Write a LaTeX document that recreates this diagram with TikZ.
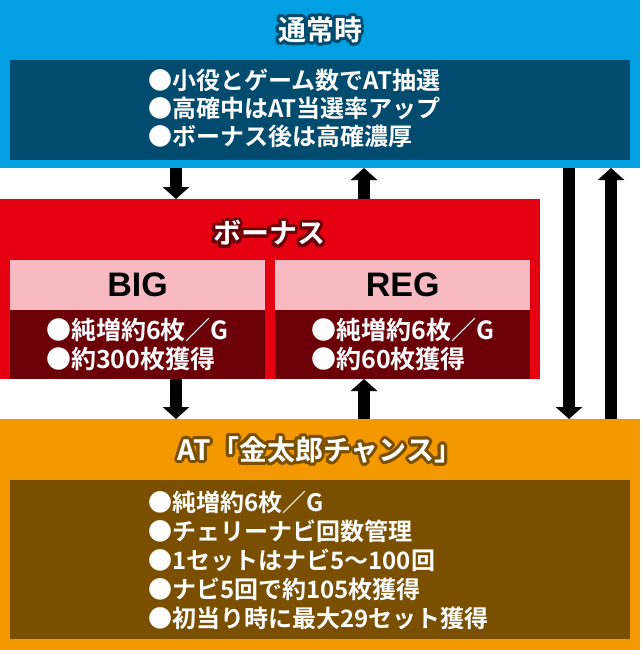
\documentclass[tikz,border=0pt]{standalone}
\usepackage{fontspec}
\setmainfont{Noto Sans CJK JP}[BoldFont={Noto Sans CJK JP Bold}]
\newfontfamily\latinhead{Liberation Sans}
\usetikzlibrary{arrows.meta, positioning}

\definecolor{skyblue}{HTML}{00A0E3}
\definecolor{navy}{HTML}{004B6E}
\definecolor{bonusred}{HTML}{E50012}
\definecolor{softpink}{HTML}{F8BAC2}
\definecolor{darkred}{HTML}{6C0008}
\definecolor{atorange}{HTML}{F39800}
\definecolor{brown}{HTML}{7B4F00}

\tikzset{
  panel/.style = {inner sep=0pt, outer sep=0pt, anchor=north west},
  titletext/.style = {font=\bfseries\fontsize{28}{30}\selectfont, text=white, inner sep=0pt},
  bodytext/.style = {font=\bfseries\fontsize{24}{28}\selectfont, text=white, align=left, inner sep=0pt, anchor=west},
  headtext/.style = {font=\latinhead\bfseries\fontsize{34}{36}\selectfont, text=black, inner sep=0pt},
  arr/.style = {-{Triangle[width=26pt,length=12pt]}, line width=12pt},
}

% white title with a coloured rim
\newcommand\halotitle[4]{%
  \foreach \a in {0,22.5,...,337.5}
    \node[titletext, text=#3] at ([shift={(\a:3pt)}]#2) {#4};
  \node[titletext] (#1) at (#2) {#4};
}

\begin{document}
\begin{tikzpicture}[x=1pt, y=-1pt]
    \useasboundingbox (0,0) rectangle (640,650);

    % normal play
    \node (normal) [panel, fill=skyblue, minimum width=640pt, minimum height=168pt] at (0,0) {};
    \node (normalbox) [panel, fill=navy, minimum width=620pt, minimum height=100pt] at (10,60) {};
    \coordinate (normalpos) at (320,30);
    \halotitle{normaltitle}{normalpos}{navy}{通常時}
    \node (normaltext) [bodytext] at (148,108)
      {●小役とゲーム数でAT抽選\\●高確中はAT当選率アップ\\●ボーナス後は高確濃厚};

    % bonus
    \node (bonus) [panel, fill=bonusred, minimum width=540pt, minimum height=180pt] at (0,199) {};
    \coordinate (bonuspos) at (269,233);
    \halotitle{bonustitle}{bonuspos}{darkred}{ボーナス}
    \node (bighead) [panel, fill=softpink, minimum width=255pt, minimum height=50pt] at (10,260) {};
    \node (bigbody) [fill=darkred, inner sep=0pt, minimum width=255pt, minimum height=69pt, below=0pt of bighead] {};
    \node (reghead) [fill=softpink, inner sep=0pt, minimum width=255pt, minimum height=50pt, right=10pt of bighead] {};
    \node (regbody) [fill=darkred, inner sep=0pt, minimum width=255pt, minimum height=69pt, below=0pt of reghead] {};
    \node [headtext] at (bighead) {BIG};
    \node [headtext] at (reghead) {REG};
    \node (bigtext) [bodytext, anchor=center, font=\bfseries\fontsize{25}{29}\selectfont] at (bigbody)
      {●純増約6枚／G\\●約300枚獲得};
    \node (regtext) [bodytext, anchor=center, font=\bfseries\fontsize{25}{29}\selectfont] at (regbody)
      {●純増約6枚／G\\●約60枚獲得};

    % AT
    \node (at) [panel, fill=atorange, minimum width=640pt, minimum height=231pt] at (0,419) {};
    \node (atbox) [panel, fill=brown, minimum width=620pt, minimum height=159pt] at (10,480) {};
    \coordinate (atpos) at (320,450);
    \halotitle{attitle}{atpos}{brown}{AT「金太郎チャンス」}
    \node (attext) [bodytext, font=\bfseries\fontsize{24}{29}\selectfont] at (148,560)
      {●純増約6枚／G\\●チェリーナビ回数管理\\●1セットはナビ5～100回\\●ナビ5回で約105枚獲得\\●初当り時に最大29セット獲得};

    % transitions
    \draw [arr] (176,0 |- normal.south) -- (176,0 |- bonus.north);
    \draw [arr] (364,0 |- bonus.north) -- (364,0 |- normal.south);
    \draw [arr] (176,0 |- bonus.south) -- (176,0 |- at.north);
    \draw [arr] (364,0 |- at.north) -- (364,0 |- bonus.south);
    \draw [arr] (569,0 |- normal.south) -- (569,0 |- at.north);
    \draw [arr] (611,0 |- at.north) -- (611,0 |- normal.south);

\end{tikzpicture}
\end{document}
